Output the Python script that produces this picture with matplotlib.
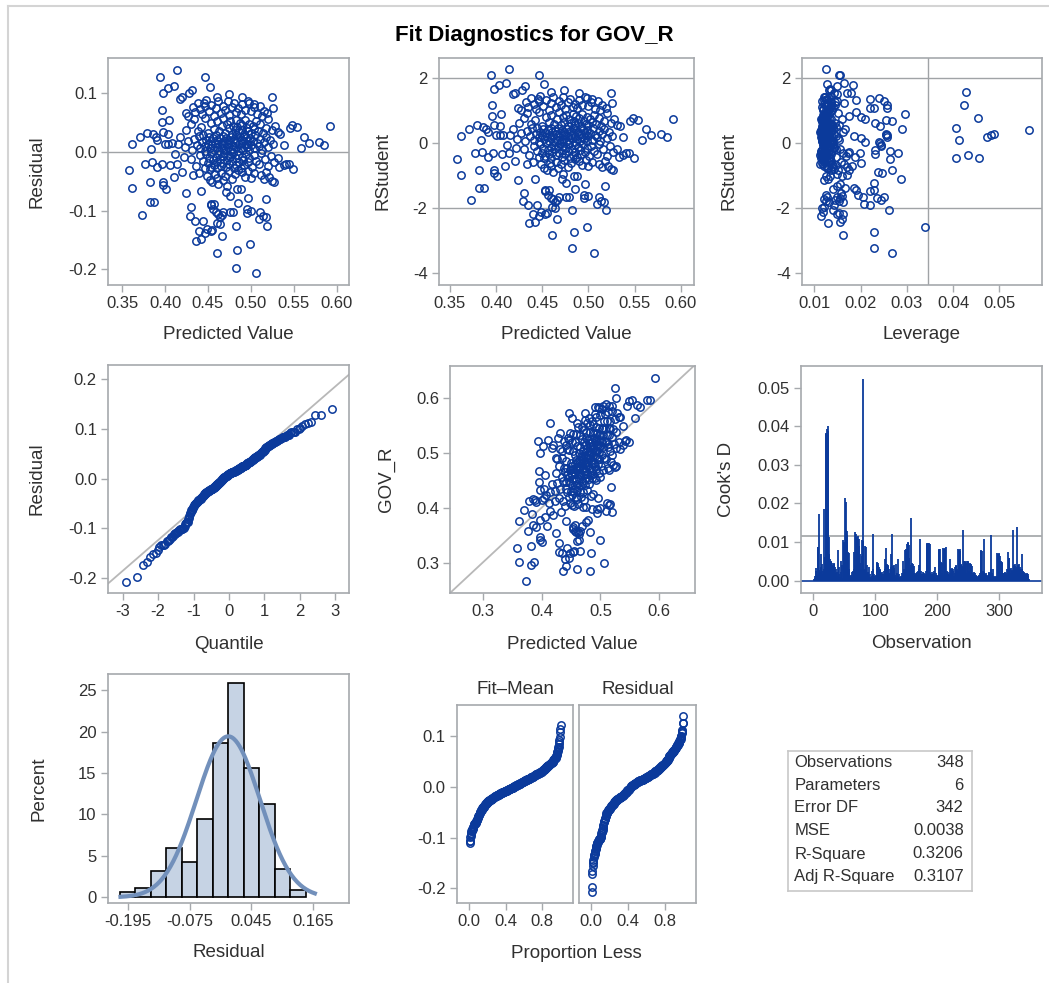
import numpy as np
import matplotlib
matplotlib.use('Agg')
import matplotlib.pyplot as plt
from matplotlib.lines import Line2D
from matplotlib.ticker import FormatStrFormatter
from statistics import NormalDist

plt.rcParams['font.family'] = ['Liberation Sans', 'DejaVu Sans']
plt.rcParams['axes.unicode_minus'] = False

# predicted value (x1000), residual (x1000), leverage (x10000), grouped by residual bin
pred = [506, 482, 461, 484, 499, 436,
        442, 466, 440, 453, 449, 455, 482, 519, 464, 446, 461,
        373, 429, 435, 444, 459, 464, 468, 476, 479, 495, 495, 509, 511, 517, 430, 462, 466, 456, 500, 453, 514,
        382, 387, 453, 457, 485, 484, 488, 496, 518, 401, 442, 424, 362, 471, 476,
        398, 398, 382, 410, 420, 358, 527, 524,
        449, 452, 455, 458, 460, 462, 465, 467, 470, 472, 474, 478, 481, 485, 490, 493, 497, 500, 504, 512, 515, 518, 521,
        440, 433,
        377, 385, 391, 397, 406, 412, 414, 422, 549, 541, 544, 538, 533,
        452, 430, 436, 441, 444, 446, 448, 450, 451, 453, 454, 456, 457, 459, 460, 461, 463, 464, 465, 467,
        468, 469, 471, 472, 473, 475, 476, 478, 479, 480, 482, 483, 485, 486, 488, 489, 491, 492, 494, 496,
        498, 501, 503, 506, 509, 512, 516, 520, 523, 527, 531,
        362, 371, 384, 389, 391, 400, 404, 408, 415, 418, 538, 558, 562, 568, 579, 585,
        423, 427, 431, 434, 437, 439, 441, 443, 444, 446, 447, 448, 450, 451, 452, 453, 455, 456, 457, 458,
        459, 460, 461, 462, 463, 464, 465, 466, 467, 468, 469, 470, 471, 472, 473, 474, 475, 476, 477, 478,
        479, 480, 481, 482, 483, 484, 485, 486, 487, 488, 489, 490, 491, 492, 493, 494, 495, 496, 497, 498,
        499, 500, 502, 504, 505, 507, 509, 511, 513, 515, 517, 520, 522, 526,
        379, 386, 398, 404, 396, 405, 534, 545, 548, 554, 592,
        425, 430, 434, 438, 442, 447, 450, 454, 457, 460, 463, 466, 468, 470, 472, 474, 476, 478, 479, 481,
        483, 484, 486, 487, 489, 490, 492, 493, 495, 497, 498, 500, 502, 504, 506, 508, 511, 514, 517, 520,
        524, 528, 531,
        396, 424, 445, 498, 504, 515, 519,
        427, 432, 435, 438, 441, 443, 446, 448, 451, 454, 457, 459, 462, 465, 468, 470, 473, 475, 478, 480,
        483, 485, 488, 490, 493, 496, 500, 503, 507, 510, 513, 526,
        398, 403, 411, 418, 420, 428, 431, 452, 525, 460, 474, 490,
        394, 414, 446]

resid = [-207, -197, -173, -167, -157, -151,
         -149, -144, -134, -134, -131, -133, -126, -126, -123, -138, -121,
         -107, -110, -117, -117, -103, -111, -102, -102, -102, -98, -104, -115, -102, -111, -94, -106, -108, -98, -100, -91, -109,
         -86, -86, -89, -89, -87, -63, -63, -78, -81, -63, -67, -70, -61, -69, -75,
         -51, -57, -51, -43, -34, -31, -51, -49,
         -41, -47, -52, -38, -44, -55, -36, -48, -41, -58, -33, -46, -38, -31, -35, -42, -33, -44, -36, -40, -46, -35, -43,
         -36, -40,
         -20, -17, -26, -20, -22, -4, -20, -9, -29, -20, -20, -23, -26,
         -29, -12, -24, -6, -16, -27, -3, -19, -10, -25, -1, -14, -22, -8, -28, -17, -4, -12, -24, -7,
         -19, -1, -26, -13, -6, -21, -9, -16, -2, -28, -11, -23, -5, -18, -27, -8, -14, -22, -3, -17,
         -10, -25, -6, -15, -21, -2, -12, -24, -7, -18, -11,
         13, 25, 5, 26, 20, 14, 14, 15, 14, 26, 11, 6, 25, 15, 17, 11,
         8, 19, 3, 22, 12, 27, 6, 17, 28, 10, 2, 21, 14, 26, 7, 18, 11, 24, 4, 15,
         28, 9, 20, 13, 1, 23, 16, 6, 27, 11, 19, 3, 24, 14, 8, 21, 17, 2, 26, 12,
         5, 22, 15, 9, 28, 18, 1, 13, 25, 7, 20, 16, 3, 27, 11, 23, 8, 19, 14, 4,
         24, 12, 18, 6, 28, 15, 10, 22, 4, 17, 26, 9, 21, 13,
         33, 30, 34, 31, 51, 54, 31, 41, 46, 43, 45,
         38, 47, 56, 35, 43, 58, 32, 49, 39, 53, 36, 44, 57, 33, 48, 40, 52, 31, 45, 37,
         55, 42, 34, 50, 38, 46, 31, 54, 41, 36, 48, 33, 44, 39, 52, 35, 47, 32, 41, 56,
         37, 44, 34,
         71, 66, 83, 84, 82, 70, 66,
         62, 76, 68, 84, 73, 64, 78, 88, 69, 80, 62, 75, 86, 67, 79, 71, 87, 63, 76, 83,
         68, 74, 65, 81, 72, 87, 69, 77, 64, 79, 61, 74,
         101, 109, 113, 91, 94, 100, 106, 111, 93, 94, 99, 93,
         127, 140, 127]

lev = [267, 228, 161, 228, 339, 129,
       155, 159, 161, 150, 118, 154, 140, 261, 117, 114, 122,
       245, 125, 220, 142, 235, 131, 250, 206, 150, 195, 155, 207, 128, 163, 158, 120, 145, 126, 160, 220, 153,
       186, 167, 230, 191, 140, 125, 133, 156, 148, 160, 288, 121, 170, 130, 229,
       267, 247, 152, 122, 136, 263, 176, 143,
       118, 127, 135, 116, 141, 238, 121, 130, 113, 149, 125, 139, 200, 120, 132, 146, 118, 128, 157, 138, 171, 124, 182,
       129, 165,
       198, 176, 147, 134, 231, 245, 162, 143, 406, 172, 281, 432, 188,
       456, 125, 118, 131, 114, 122, 140, 117, 128, 119, 135, 116, 126, 143, 115, 124, 119, 137, 113, 121,
       129, 243, 116, 231, 245, 117, 127, 263, 120, 133, 118, 125, 140, 114, 122, 130, 116, 136, 119, 126,
       142, 117, 124, 131, 115, 127, 155, 168, 134, 121, 146,
       185, 166, 154, 141, 136, 128, 132, 125, 120, 126, 473, 413, 290, 256, 488, 258,
       130, 122, 117, 135, 126, 119, 140, 121, 128, 115, 124, 133, 118, 127, 116, 122, 138, 114, 125, 119,
       406, 117, 123, 128, 136, 115, 120, 126, 117, 132, 121, 116, 124, 483, 129, 113, 127, 240, 118, 122,
       134, 116, 125, 202, 119, 123, 209, 117, 128, 121, 115, 256, 118, 124, 120, 565, 116, 122, 258, 127,
       119, 131, 117, 125, 121, 129, 118, 137, 123, 142, 134, 151, 162, 147,
       153, 146, 139, 137, 176, 132, 242, 267, 453, 256, 209,
       231, 122, 128, 118, 125, 134, 117, 121, 130, 119, 126, 115, 191, 120, 127, 118, 124, 136, 116, 129,
       121, 117, 133, 120, 125, 119, 128, 296, 116, 124, 202, 118, 135, 122, 126, 119, 131, 140, 127, 152,
       145, 160, 138,
       144, 220, 220, 132, 127, 424, 228,
       126, 135, 141, 240, 122, 130, 250, 136, 125, 190, 118, 129, 121, 133, 117, 258, 124, 119, 135, 128,
       116, 126, 258, 121, 130, 124, 137, 145, 131, 148, 139, 165,
       134, 183, 164, 150, 142, 137, 148, 128, 170, 427, 131, 180,
       153, 125, 155]

# Cook's D by observation (x10000)
cooks = [4, 8, 12, 32, 25, 14, 88, 86, 172, 28, 22, 36, 68, 42, 18, 24, 30, 186, 62, 383,
         380, 392, 388, 400, 112, 70, 55, 48, 52, 45, 40, 38, 46, 42, 36, 30, 20, 12, 22, 80,
         35, 18, 10, 50, 22, 8, 40, 105, 100, 98, 215, 205, 130, 128, 118, 75, 72, 30, 12, 8,
         15, 22, 10, 25, 30, 75, 40, 125, 120, 112, 110, 115, 108, 90, 70, 45, 30, 65, 105, 102,
         523, 30, 28, 90, 88, 40, 20, 15, 22, 35, 18, 10, 8, 12, 25, 122, 30, 18, 12, 8,
         15, 48, 46, 45, 40, 35, 30, 28, 15, 20, 22, 18, 10, 25, 55, 30, 85, 40, 42, 38,
         40, 20, 15, 30, 70, 35, 122, 25, 38, 40, 32, 15, 10, 42, 20, 12, 55, 18, 10, 8,
         12, 10, 20, 15, 50, 22, 30, 80, 78, 82, 95, 100, 98, 92, 60, 30, 40, 163, 45, 30,
         42, 38, 20, 15, 18, 20, 22, 15, 25, 40, 30, 107, 25, 12, 10, 18, 22, 15, 20, 12,
         18, 25, 98, 95, 97, 22, 98, 96, 20, 15, 18, 22, 15, 25, 20, 10, 35, 20, 15, 8,
         12, 83, 80, 82, 50, 48, 45, 20, 15, 84, 82, 85, 80, 87, 25, 20, 18, 22, 15, 55,
         20, 30, 28, 32, 30, 25, 12, 20, 35, 40, 38, 30, 25, 83, 80, 82, 78, 40, 42, 38,
         130, 35, 50, 48, 52, 45, 20, 52, 50, 48, 25, 46, 44, 40, 42, 38, 15, 20, 18, 22,
         20, 15, 10, 12, 8, 10, 12, 15, 20, 80, 78, 76, 25, 20, 108, 22, 18, 20, 15, 12,
         10, 15, 20, 22, 18, 30, 119, 20, 15, 30, 12, 10, 8, 10, 12, 10, 72, 70, 72, 68,
         65, 20, 50, 48, 45, 20, 15, 20, 22, 18, 20, 15, 30, 75, 60, 58, 20, 30, 32, 28,
         25, 130, 35, 40, 38, 42, 30, 140, 35, 40, 38, 42, 35, 30, 20, 70, 30, 25, 20, 22,
         20, 15, 18, 20, 15, 18, 12, 5]

# histogram of residuals
hist_centers = [-0.195, -0.165, -0.135, -0.105, -0.075, -0.045, -0.015, 0.015, 0.045, 0.075, 0.105, 0.135]
hist_pct = [0.6, 1.15, 3.2, 5.95, 4.3, 9.45, 18.6, 25.9, 15.55, 11.3, 3.4, 0.85]

stat_names = ['Observations', 'Parameters', 'Error DF', 'MSE', 'R-Square', 'Adj R-Square']
stat_values = ['348', '6', '342', '0.0038', '0.3206', '0.3107']
mse = 0.0038
n_params = 6

BLUE = '#0b3a9b'
FRAME = '#a6a9ad'
REF = '#a0a3a6'
TXT = '#303030'
W, H = 1049, 983

p = np.array(pred) / 1000
r = np.array(resid) / 1000
h = np.array(lev) / 10000
n = len(r)
rstud = r / np.sqrt(mse * (1 - h))
gov = p + r

fig = plt.figure(figsize=(W / 100, H / 100), dpi=100)


def px_axes(x0, y0, x1, y1):
    return fig.add_axes([x0 / W, 1 - y1 / H, (x1 - x0) / W, (y1 - y0) / H])


def style(ax):
    for s in ax.spines.values():
        s.set_color(FRAME)
        s.set_linewidth(1.2)
    ax.tick_params(direction='out', length=5, width=1, color=FRAME,
                   labelsize=12, labelcolor=TXT, pad=3)


def labels(ax, xl, yl, xc, yc=-0.22):
    if xl:
        ax.set_xlabel(xl, fontsize=13.5, color=TXT)
        ax.xaxis.label.set_va('center')
        ax.xaxis.set_label_coords(0.5, yc)
    if yl:
        ax.set_ylabel(yl, fontsize=13.5, color=TXT)
        ax.yaxis.label.set_va('center')
        ax.yaxis.set_label_coords(xc, 0.5)


def circles(ax, x, y):
    ax.plot(x, y, 'o', mfc='none', mec=BLUE, ms=5.3, mew=1.1, zorder=3)


# row 1
ax1 = px_axes(108, 58, 349, 285)
style(ax1)
ax1.axhline(0, color=REF, lw=1, zorder=1)
circles(ax1, p, r)
ax1.set_xlim(0.3337, 0.614)
ax1.set_ylim(-0.2267, 0.160)
ax1.set_xticks([0.35, 0.40, 0.45, 0.50, 0.55, 0.60])
ax1.xaxis.set_major_formatter(FormatStrFormatter('%.2f'))
ax1.set_yticks([-0.2, -0.1, 0.0, 0.1])
ax1.yaxis.set_major_formatter(FormatStrFormatter('%.1f'))
labels(ax1, 'Predicted Value', 'Residual', -0.296)

ax2 = px_axes(438.7, 58, 694, 285)
style(ax2)
for yv in (-2, 2):
    ax2.axhline(yv, color=REF, lw=1, zorder=1)
circles(ax2, p, rstud)
ax2.set_xlim(0.3378, 0.6144)
ax2.set_ylim(-4.38, 2.61)
ax2.set_xticks([0.35, 0.40, 0.45, 0.50, 0.55, 0.60])
ax2.xaxis.set_major_formatter(FormatStrFormatter('%.2f'))
ax2.set_yticks([-4, -2, 0, 2])
labels(ax2, 'Predicted Value', 'RStudent', -0.219)

ax3 = px_axes(801.7, 58, 1042.3, 285)
style(ax3)
for yv in (-2, 2):
    ax3.axhline(yv, color=REF, lw=1, zorder=1)
ax3.axvline(2 * n_params / n, color=REF, lw=1, zorder=1)
circles(ax3, h, rstud)
ax3.set_xlim(0.00727, 0.0593)
ax3.set_ylim(-4.38, 2.61)
ax3.set_xticks([0.01, 0.02, 0.03, 0.04, 0.05])
ax3.xaxis.set_major_formatter(FormatStrFormatter('%.2f'))
ax3.set_yticks([-4, -2, 0, 2])
labels(ax3, 'Leverage', 'RStudent', -0.301)

# row 2
ax4 = px_axes(108, 365, 349, 593.3)
style(ax4)
q = np.array([NormalDist().inv_cdf((i - 0.375) / (n + 0.25)) for i in range(1, n + 1)])
ax4.axline((0, 0), slope=np.sqrt(mse), color='#b8b8b8', lw=1.3, zorder=1)
circles(ax4, q, np.sort(r))
ax4.set_xlim(-3.415, 3.387)
ax4.set_ylim(-0.230, 0.228)
ax4.set_xticks([-3, -2, -1, 0, 1, 2, 3])
ax4.set_yticks([-0.2, -0.1, 0.0, 0.1, 0.2])
ax4.yaxis.set_major_formatter(FormatStrFormatter('%.1f'))
labels(ax4, 'Quantile', 'Residual', -0.296, -0.223)

ax5 = px_axes(450, 365.7, 695, 593.3)
style(ax5)
ax5.axline((0.3, 0.3), slope=1, color='#b8b8b8', lw=1.3, zorder=1)
circles(ax5, p, gov)
ax5.set_xlim(0.2445, 0.6606)
ax5.set_ylim(0.244, 0.659)
ax5.set_xticks([0.3, 0.4, 0.5, 0.6])
ax5.set_yticks([0.3, 0.4, 0.5, 0.6])
labels(ax5, 'Predicted Value', 'GOV_R', -0.258, -0.223)

ax6 = px_axes(801, 366, 1042.3, 593.3)
style(ax6)
obs = np.arange(1, len(cooks) + 1)
cd = np.array(cooks) / 10000
ax6.axhline(4 / n, color=REF, lw=1.2, zorder=1)
ax6.axhline(0, color=BLUE, lw=1.2, zorder=2)
ax6.vlines(obs, 0, cd, color=BLUE, lw=1.3, zorder=3)
ax6.set_xlim(-19.8, 369.4)
ax6.set_ylim(-0.00327, 0.0556)
ax6.set_xticks([0, 100, 200, 300])
ax6.set_yticks([0.0, 0.01, 0.02, 0.03, 0.04, 0.05])
ax6.yaxis.set_major_formatter(FormatStrFormatter('%.2f'))
labels(ax6, 'Observation', "Cook's D", -0.308, -0.223)

# row 3
ax7 = px_axes(107.7, 674.3, 349.3, 903.3)
style(ax7)
ax7.bar(hist_centers, hist_pct, width=0.03, color='#c6d3e4', edgecolor='black', lw=1.2, zorder=2)
xs = np.linspace(-0.209, 0.168, 200)
nd = NormalDist(0, np.sqrt(mse))
ax7.plot(xs, [100 * 0.03 * nd.pdf(v) for v in xs], color='#7290bb', lw=3, zorder=3)
ax7.set_xlim(-0.2338, 0.2348)
ax7.set_ylim(-0.72, 26.9)
ax7.set_xticks([-0.195, -0.075, 0.045, 0.165])
ax7.xaxis.set_major_formatter(FormatStrFormatter('%.3f'))
ax7.set_yticks([0, 5, 10, 15, 20, 25])
labels(ax7, 'Residual', 'Percent', -0.283, -0.216)

prop = np.arange(1, n + 1) / n
ax8 = px_axes(456.7, 705, 573.3, 903.3)
ax9 = px_axes(578.7, 705, 696, 903.3)
for ax, vals, ttl in ((ax8, np.sort(p - p.mean()), 'Fit\u2013Mean'), (ax9, np.sort(r), 'Residual')):
    style(ax)
    circles(ax, prop, vals)
    ax.set_xlim(-0.138, 1.14)
    ax.set_ylim(-0.230, 0.162)
    ax.set_xticks([0.0, 0.4, 0.8])
    ax.xaxis.set_major_formatter(FormatStrFormatter('%.1f'))
    ax.set_title(ttl, fontsize=13.5, color=TXT, pad=8)
ax8.set_yticks([-0.2, -0.1, 0.0, 0.1])
ax8.yaxis.set_major_formatter(FormatStrFormatter('%.1f'))
ax9.set_yticks([])
fig.text(576 / W, 1 - 953 / H, 'Proportion Less', ha='center', va='center', fontsize=13.5, color=TXT)

# fit statistics table
axt = px_axes(788.3, 751, 971.7, 891)
axt.set_xticks([])
axt.set_yticks([])
for s in axt.spines.values():
    s.set_color('#c8c8c8')
    s.set_linewidth(1.2)
row_y = [762.3, 785, 807.7, 830.7, 854, 876.7]
for name, val, yy in zip(stat_names, stat_values, row_y):
    yc = (891 - yy) / 140
    axt.text(0.033, yc, name, ha='left', va='center', fontsize=12, color=TXT, transform=axt.transAxes)
    axt.text(0.956, yc, val, ha='right', va='center', fontsize=12, color=TXT, transform=axt.transAxes)

fig.text(534.7 / W, 1 - 36 / H, 'Fit Diagnostics for GOV_R', ha='center', va='center',
         fontsize=16, fontweight='bold', color='black')

# outer frame
fig.add_artist(Line2D([8 / W, 1], [1 - 6 / H, 1 - 6 / H], transform=fig.transFigure, color='#d4d4d4', lw=1.5))
fig.add_artist(Line2D([8 / W, 8 / W], [0, 1 - 6 / H], transform=fig.transFigure, color='#d4d4d4', lw=1.5))

fig.savefig('out.png', dpi=100)
